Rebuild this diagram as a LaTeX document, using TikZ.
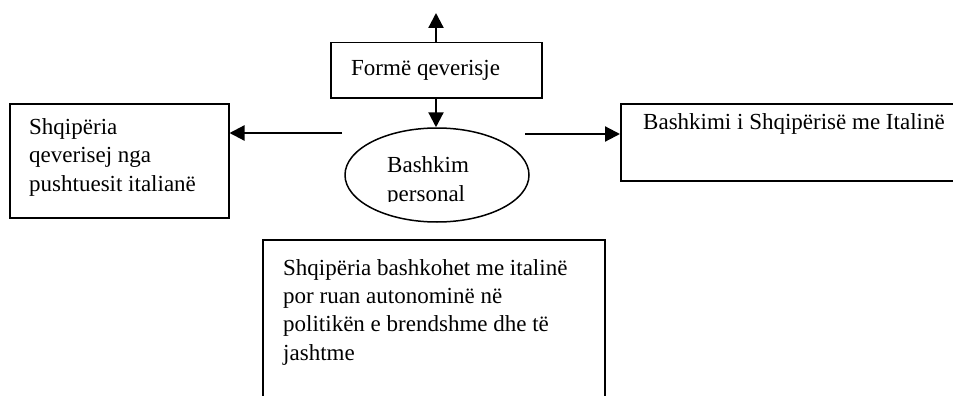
\documentclass[tikz,border=0pt]{standalone}
\usepackage{fontspec}
\setmainfont{Liberation Serif}
\usetikzlibrary{arrows.meta,shapes.geometric}
\begin{document}
\begin{tikzpicture}[x=1pt,y=-1pt,
  box/.style={draw, line width=1.5pt, rectangle, inner sep=0pt, anchor=north west},
  lbl/.style={anchor=base west, inner sep=0pt, align=left, font=\fontsize{23}{28.3}\selectfont},
  arr/.style={line width=2.2pt, -{Triangle[length=15pt,width=15pt]}}]
\useasboundingbox (0,0) rectangle (953,396);
\clip (0,0) rectangle (953,396);
% boxes
\node[box, minimum width=211pt, minimum height=55pt] (form) at (330,42) {};
\node[box, minimum width=219pt, minimum height=114pt] (lbox) at (9,103) {};
\node[box, minimum width=400pt, minimum height=77pt] (rbox) at (620,103) {};
\node[box, minimum width=342pt, minimum height=200pt] (bbox) at (262,239) {};
\node[draw, ellipse, line width=1.5pt, minimum width=184pt, minimum height=94pt, inner sep=0pt] (ell) at (437,175) {};
% texts (base anchor = baseline of the last line)
\node[lbl] (tform) at (351,75) {Formë qeverisje};
\node[lbl] (tl) at (29,191) {Shqipëria\\qeverisej nga\\pushtuesit italianë};
\node[lbl] (tr) at (643,129) {Bashkimi i Shqipërisë me Italinë};
\node[lbl] (tb) at (283,360) {Shqipëria bashkohet me italinë\\por ruan autonominë në\\politikën e brendshme dhe të\\jashtme};
\begin{scope}
\clip (340,140) rectangle (540,201.5);
\node[lbl] (te) at (387,201) {Bashkim\\personal};
\end{scope}
% connectors
\coordinate (top) at (436,13);
\coordinate (lstart) at (342,133);
\coordinate (rstart) at (525,134);
\draw[arr] (form.north -| top) -- (top);
\draw[arr] (form.south -| top) -- (ell.north -| top);
\draw[arr] (lstart) -- (lbox.east |- lstart);
\draw[arr] (rstart) -- (rbox.west |- rstart);
\end{tikzpicture}
\end{document}
